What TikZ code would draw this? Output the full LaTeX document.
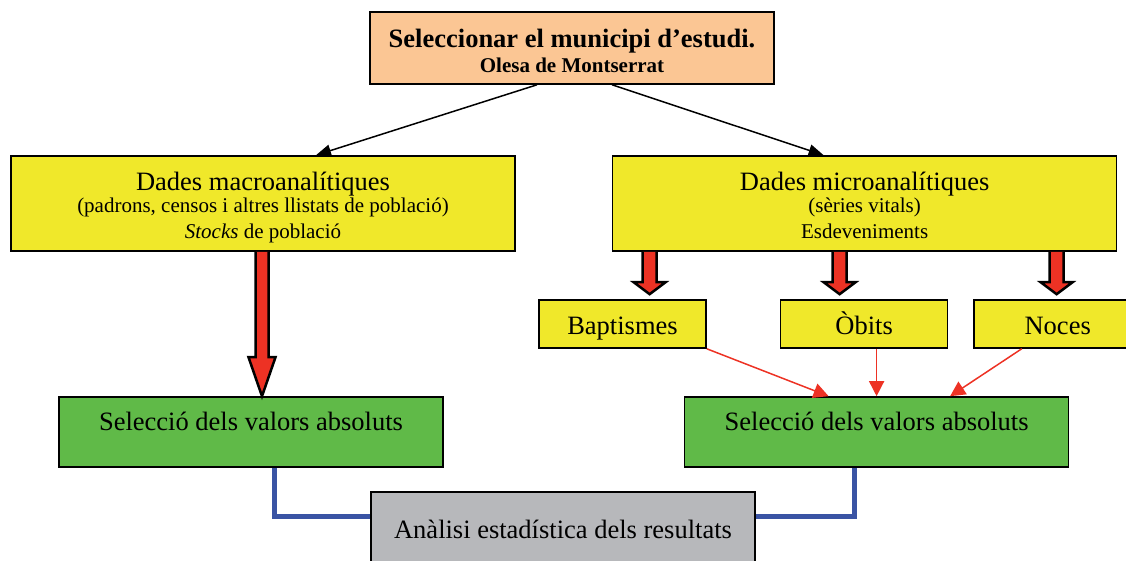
\documentclass[tikz,border=0pt]{standalone}
\usepackage{fontspec}
\setmainfont{Liberation Serif}
\usetikzlibrary{positioning,calc,arrows.meta}

\definecolor{salmo}{RGB}{251,198,148}
\definecolor{groc}{RGB}{240,232,42}
\definecolor{verd}{RGB}{96,186,72}
\definecolor{gris}{RGB}{183,184,187}
\definecolor{vermell}{RGB}{237,50,36}
\definecolor{blau}{RGB}{58,84,164}

\newcommand{\petita}{\fontsize{21}{22}\selectfont}

\tikzset{
  caixa/.style = {draw=black, line width=1.6pt, inner sep=0pt, align=center,
                  font=\fontsize{26.5}{22}\selectfont},
  fletxagran/.style = {fill=vermell, draw=black, line width=2.5pt, line join=miter},
  fletxaprim/.style = {-{Triangle[length=15pt, width=15pt]}, vermell, line width=1.5pt},
  fletxanegra/.style = {-{Triangle[length=15pt, width=12pt]}, black, line width=1.5pt},
  enllac/.style = {blau, line width=5pt},
}

% #1 start, #2 tip, #3 half shaft, #4 half head, #5 head length
\newcommand{\fletxa}[5]{%
  \filldraw[fletxagran] let \p1 = #1, \p2 = #2 in
    (\x1-#3,\y1) -- (\x1-#3,\y2+#5) -- (\x1-#4,\y2+#5) -- (\x1,\y2)
    -- (\x1+#4,\y2+#5) -- (\x1+#3,\y2+#5) -- (\x1+#3,\y1);}

\begin{document}
\begin{tikzpicture}[x=1pt, y=1pt]
    \useasboundingbox (0,0) rectangle (1126,561);

    \node[caixa, fill=salmo, minimum width=404pt, minimum height=72pt,
          text height=50pt, text depth=0pt] (tria) at (572,513)
      {\bfseries Seleccionar el municipi d’estudi.\\[3pt]
       \petita\bfseries Olesa de Montserrat};

    \node[caixa, fill=groc, minimum width=504pt, minimum height=95pt,
          text height=71pt, text depth=0pt] (macro) at (263,357.5)
      {Dades macroanalítiques\\
       \petita (padrons, censos i altres llistats de població)\\[4pt]
       \petita \emph{Stocks} de població};
    \node[caixa, fill=groc, minimum width=504pt, minimum height=95pt,
          text height=71pt, text depth=0pt, right=96pt of macro] (micro)
      {Dades microanalítiques\\
       \petita (sèries vitals)\\[4pt]
       \petita Esdeveniments};

    \node[caixa, fill=groc, minimum width=167pt, minimum height=48pt,
          text height=20.6pt, text depth=0pt] (bapt) at (622.5,237) {Baptismes};
    \node[caixa, fill=groc, minimum width=167pt, minimum height=48pt,
          text height=20.6pt, text depth=0pt, right=73pt of bapt] (obits) {Òbits};
    \node[caixa, fill=groc, minimum width=167pt, minimum height=48pt,
          text height=20.6pt, text depth=0pt, right=25pt of obits] (noces) {Noces};

    \node[caixa, fill=verd, minimum width=384pt, minimum height=70pt,
          text height=0pt, text depth=2.6pt] (selA) at (251,129)
      {Selecció dels valors absoluts};
    \node[caixa, fill=verd, minimum width=384pt, minimum height=70pt,
          text height=0pt, text depth=2.6pt, right=240pt of selA] (selB)
      {Selecció dels valors absoluts};

    \node[caixa, fill=gris, minimum width=384pt, minimum height=70pt,
          text height=24pt, text depth=0pt] (analisi) at (563,34)
      {Anàlisi estadística dels resultats};

    \draw[fletxanegra] ($(tria.south)+(-35,0)$) -- ($(macro.north)+(53,0)$);
    \draw[fletxanegra] ($(tria.south)+(40,0)$) -- ($(micro.north)+(-41,0)$);

    \fletxa{($(macro.south)+(-1,0)$)}{(selA.north)}{6.5}{13.5}{39}
    \fletxa{($(micro.south)+(-215,0)$)}{($(bapt.north)+(0,5)$)}{7}{16}{12}
    \fletxa{($(micro.south)+(-25,0)$)}{($(obits.north)+(0,5)$)}{7}{16}{12}
    \fletxa{($(micro.south)+(192,0)$)}{($(noces.north)+(0,5)$)}{7}{16}{12}

    \draw[fletxaprim] (bapt.south east) -- ($(selB.north)+(-48,0)$);
    \draw[fletxaprim] ($(obits.south)+(12.5,0)$) -- (selB.north);
    \draw[fletxaprim] ($(noces.south)+(-36,0)$) -- ($(selB.north)+(73.5,0)$);

    \draw[enllac] ($(selA.south)+(23,0)$) |- ($(analisi.west)+(0,10)$);
    \draw[enllac] ($(selB.south)+(-22.5,0)$) |- ($(analisi.east)+(0,10)$);
\end{tikzpicture}
\end{document}
